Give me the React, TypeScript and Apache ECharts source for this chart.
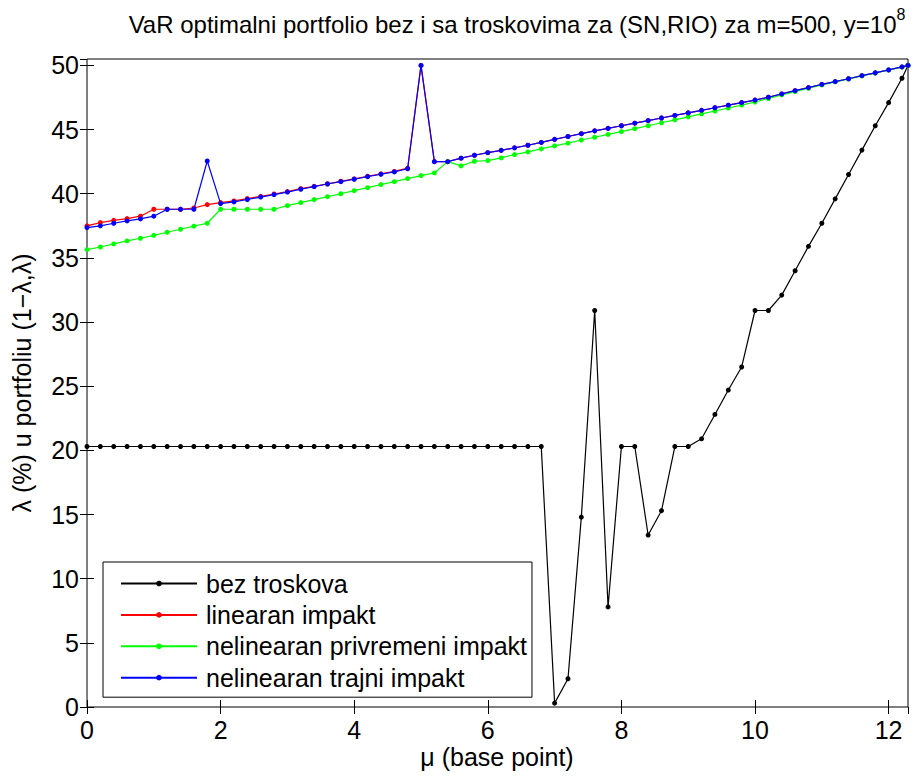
import React, { useEffect, useRef } from "react";
import * as echarts from "echarts";

const mu = [
  0, 0.2, 0.4, 0.6, 0.8, 1.0, 1.2, 1.4, 1.6, 1.8, 2.0, 2.2, 2.4, 2.6, 2.8, 3.0, 3.2, 3.4, 3.6, 3.8,
  4.0, 4.2, 4.4, 4.6, 4.8, 5.0, 5.2, 5.4, 5.6, 5.8, 6.0, 6.2, 6.4, 6.6, 6.8, 7.0, 7.2, 7.4, 7.6, 7.8,
  8.0, 8.2, 8.4, 8.6, 8.8, 9.0, 9.2, 9.4, 9.6, 9.8, 10.0, 10.2, 10.4, 10.6, 10.8, 11.0, 11.2, 11.4,
  11.6, 11.8, 12.0, 12.2, 12.29,
];

const bezTroskova = [
  20.3, 20.3, 20.3, 20.3, 20.3, 20.3, 20.3, 20.3, 20.3, 20.3, 20.3, 20.3, 20.3, 20.3, 20.3, 20.3,
  20.3, 20.3, 20.3, 20.3, 20.3, 20.3, 20.3, 20.3, 20.3, 20.3, 20.3, 20.3, 20.3, 20.3, 20.3, 20.3,
  20.3, 20.3, 20.3, 0.3, 2.2, 14.8, 30.9, 7.8, 20.3, 20.3, 13.4, 15.3, 20.3, 20.3, 20.9, 22.8, 24.7,
  26.5, 30.9, 30.9, 32.1, 34.0, 35.9, 37.7, 39.6, 41.5, 43.4, 45.3, 47.1, 49.0, 50.0,
];

const linearanImpakt = [
  37.5, 37.75, 37.93, 38.06, 38.25, 38.79, 38.79, 38.79, 38.89, 39.15, 39.31, 39.44, 39.62, 39.8,
  39.98, 40.17, 40.4, 40.58, 40.78, 40.97, 41.16, 41.36, 41.55, 41.74, 41.99, 50.0, 42.5, 42.5,
  42.77, 43.0, 43.2, 43.38, 43.58, 43.78, 44.0, 44.24, 44.46, 44.68, 44.9, 45.1, 45.3, 45.5, 45.7,
  45.9, 46.1, 46.3, 46.5, 46.7, 46.9, 47.1, 47.3, 47.52, 47.78, 48.03, 48.27, 48.52, 48.74, 48.96,
  49.2, 49.42, 49.65, 49.88, 50.0,
];

const nelinPrivremeni = [
  35.65, 35.85, 36.09, 36.32, 36.53, 36.76, 37.0, 37.23, 37.47, 37.7, 38.79, 38.79, 38.79, 38.79,
  38.79, 39.07, 39.31, 39.54, 39.77, 40.0, 40.24, 40.47, 40.71, 40.94, 41.18, 41.41, 41.62, 42.5,
  42.17, 42.53, 42.58, 42.79, 43.05, 43.26, 43.49, 43.73, 43.94, 44.19, 44.4, 44.62, 44.84, 45.07,
  45.3, 45.53, 45.76, 45.99, 46.22, 46.45, 46.68, 46.91, 47.15, 47.42, 47.7, 47.96, 48.22, 48.48,
  48.72, 48.95, 49.19, 49.41, 49.64, 49.87, 50.0,
];

const nelinTrajni = [
  37.36, 37.5, 37.7, 37.88, 38.04, 38.25, 38.79, 38.79, 38.79, 42.55, 39.23, 39.36, 39.55, 39.74,
  39.93, 40.13, 40.35, 40.55, 40.76, 40.94, 41.13, 41.33, 41.52, 41.7, 41.95, 50.0, 42.5, 42.5,
  42.77, 43.0, 43.2, 43.38, 43.58, 43.78, 44.0, 44.24, 44.46, 44.68, 44.9, 45.1, 45.3, 45.5, 45.7,
  45.9, 46.1, 46.3, 46.5, 46.7, 46.9, 47.1, 47.3, 47.52, 47.78, 48.03, 48.27, 48.52, 48.74, 48.96,
  49.2, 49.42, 49.65, 49.88, 50.0,
];

const seriesNames = [
  "bez troskova",
  "linearan impakt",
  "nelinearan privremeni impakt",
  "nelinearan trajni impakt",
];
const seriesColors = ["#000000", "#ff0000", "#00ff00", "#0000ff"];
const seriesValues = [bezTroskova, linearanImpakt, nelinPrivremeni, nelinTrajni];

const titleText = "VaR optimalni portfolio bez i sa troskovima za (SN,RIO) za m=500, y=10";
const titleSup = "8";
const xName = "μ (base point)";
const yName = "λ (%) u portfoliu (1−λ,λ)";

const FONT = "'Liberation Sans', Arial, Helvetica, sans-serif";

export default function App() {
  const ref = useRef<HTMLDivElement>(null);

  useEffect(() => {
    document.body.style.margin = "0";
    if (!ref.current) return;
    const chart = echarts.init(ref.current, null, { renderer: "svg" });

    const axisCommon = {
      min: 0,
      axisLine: { show: false },
      splitLine: { show: false },
      axisTick: { inside: true, length: 7, lineStyle: { color: "#000", width: 1 } },
    };

    const option: any = {
      animation: false,
      backgroundColor: "#ffffff",
      textStyle: { fontFamily: FONT },
      grid: {
        left: 87,
        right: 6,
        top: 59,
        bottom: 69,
        containLabel: false,
        show: true,
        borderColor: "#000",
        borderWidth: 1,
      },
      xAxis: [
        {
          ...axisCommon,
          type: "value",
          max: 12.29,
          interval: 2,
          position: "bottom",
          axisLabel: {
            color: "#000",
            fontSize: 25,
            fontFamily: FONT,
            margin: 10,
            showMaxLabel: false,
          },
        },
        {
          ...axisCommon,
          type: "value",
          max: 12.29,
          interval: 2,
          position: "top",
          axisLabel: { show: false },
        },
      ],
      yAxis: [
        {
          ...axisCommon,
          type: "value",
          max: 50.5,
          interval: 5,
          position: "left",
          axisLabel: {
            color: "#000",
            fontSize: 25,
            fontFamily: FONT,
            margin: 8,
            showMaxLabel: false,
          },
        },
        {
          ...axisCommon,
          type: "value",
          max: 50.5,
          interval: 5,
          position: "right",
          axisLabel: { show: false },
        },
      ],
      legend: {
        orient: "vertical",
        left: 103,
        top: 562,
        data: seriesNames,
        backgroundColor: "#fff",
        borderColor: "#000",
        borderWidth: 1,
        borderRadius: 0,
        padding: [9, 5, 7, 17],
        itemWidth: 76,
        itemHeight: 7,
        itemGap: 6.4,
        textStyle: {
          color: "#000",
          fontSize: 25,
          lineHeight: 24,
          fontFamily: FONT,
          padding: [0, 0, 0, 4],
        },
      },
      graphic: [
        {
          type: "text",
          x: 517,
          y: 21,
          style: {
            text: "{a|" + titleText + "}{b|" + titleSup + "}",
            textAlign: "center",
            textVerticalAlign: "middle",
            rich: {
              a: { fontSize: 24, fontFamily: FONT, fill: "#000", lineHeight: 30, verticalAlign: "bottom" },
              b: { fontSize: 16, fontFamily: FONT, fill: "#000", lineHeight: 30, verticalAlign: "top" },
            },
          },
        },
        {
          type: "text",
          x: 497,
          y: 757,
          style: {
            text: xName,
            textAlign: "center",
            textVerticalAlign: "middle",
            fontSize: 25,
            fontFamily: FONT,
            fill: "#000",
          },
        },
        {
          type: "text",
          x: 22,
          y: 383,
          rotation: Math.PI / 2,
          style: {
            text: yName,
            textAlign: "center",
            textVerticalAlign: "middle",
            fontSize: 25,
            fontFamily: FONT,
            fill: "#000",
          },
        },
      ],
      series: seriesNames.map((name, i) => ({
        name,
        type: "line",
        xAxisIndex: 0,
        yAxisIndex: 0,
        data: mu.map((m, j) => [m, seriesValues[i][j]]),
        symbol: "circle",
        symbolSize: 5,
        showSymbol: true,
        showAllSymbol: true,
        color: seriesColors[i],
        itemStyle: { color: seriesColors[i] },
        lineStyle: { color: seriesColors[i], width: 1.2 },
        emphasis: { disabled: true },
        z: 2 + i,
      })),
    };

    chart.setOption(option);
    return () => chart.dispose();
  }, []);

  return <div ref={ref} style={{ width: 914, height: 776 }} />;
}
